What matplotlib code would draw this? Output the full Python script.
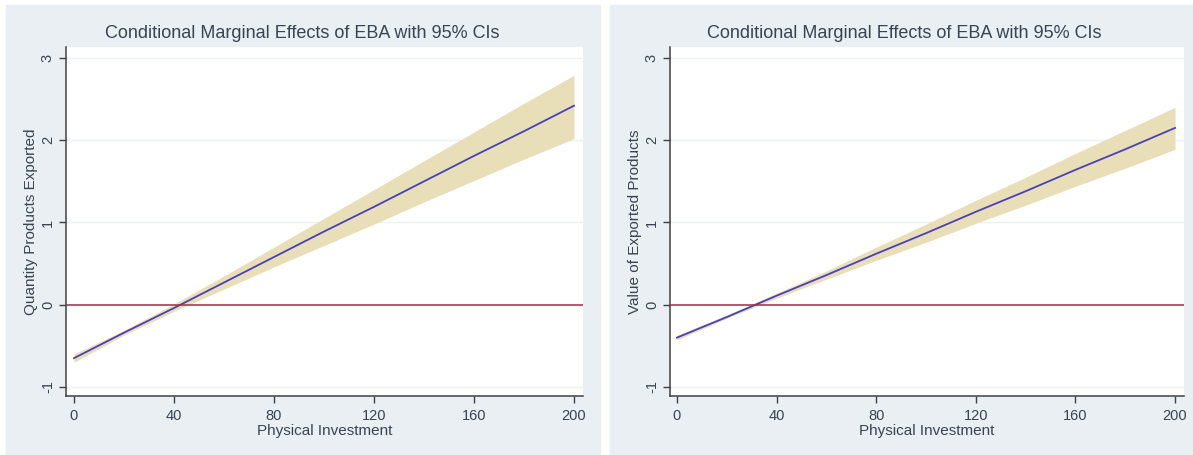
import numpy as np
import matplotlib
matplotlib.use("Agg")
import matplotlib.pyplot as plt
from matplotlib.patches import Rectangle

plt.rcParams['font.family'] = ['Liberation Sans', 'DejaVu Sans']

# === DATOS ===
x = [0, 20, 40, 60, 80, 100, 120, 140, 160, 180, 200]

# Panel izquierdo: Quantity Products Exported
qty_est = [-0.65, -0.34, -0.04, 0.27, 0.58, 0.89, 1.19, 1.50, 1.81, 2.11, 2.42]
qty_hi = [-0.60, -0.31, 0.01, 0.35, 0.70, 1.05, 1.40, 1.75, 2.10, 2.45, 2.79]
qty_lo = [-0.70, -0.37, -0.08, 0.19, 0.46, 0.72, 0.98, 1.25, 1.51, 1.77, 2.02]

# Panel derecho: Value of Exported Products
val_est = [-0.40, -0.15, 0.11, 0.36, 0.62, 0.87, 1.13, 1.38, 1.64, 1.89, 2.15]
val_hi = [-0.37, -0.125, 0.14, 0.41, 0.70, 0.98, 1.27, 1.55, 1.84, 2.12, 2.40]
val_lo = [-0.43, -0.165, 0.08, 0.31, 0.54, 0.76, 0.99, 1.21, 1.44, 1.66, 1.89]

xticks = [0, 40, 80, 120, 160, 200]
yticks = [-1, 0, 1, 2, 3]
title = 'Conditional Marginal Effects of EBA with 95% CIs'
xlabel = 'Physical Investment'

# === ESTILO ===
bg = '#E9EFF2'
band = '#E8DFB8'
line_c = '#4B3FB8'
zero_c = '#A8284A'
txt = '#3A4450'

W, H = 1193, 455
fig = plt.figure(figsize=(W / 100, H / 100), dpi=100)
fig.patch.set_facecolor('white')

# fondos de cada panel (px -> fracción)
fig.patches.append(Rectangle((6 / W, 0), (600 - 6) / W, (H - 5) / H,
                             transform=fig.transFigure, color=bg, zorder=-10))
fig.patches.append(Rectangle((610 / W, 0), (W - 610) / W, (H - 5) / H,
                             transform=fig.transFigure, color=bg, zorder=-10))


def panel(rect, est, hi, lo, ylabel, xlim, title_x):
    ax = fig.add_axes(rect)
    ax.set_facecolor('white')
    ax.fill_between(x, lo, hi, color=band, lw=0, zorder=2)
    ax.plot(x, est, color=line_c, lw=1.3, zorder=3)
    ax.axhline(0, color=zero_c, lw=1.1, zorder=4)
    for yt in yticks:
        ax.axhline(yt, color='#EAF2F3', lw=1, zorder=1)
    ax.set_xlim(*xlim)
    ax.set_ylim(-1.11, 3.134)
    ax.set_xticks(xticks)
    ax.set_yticks(yticks)
    ax.set_yticklabels([str(v) for v in yticks], rotation=90, va='center')
    ax.tick_params(direction='out', length=5, width=1, color='#404040',
                   labelcolor=txt, labelsize=10.5)
    ax.tick_params(axis='x', pad=4)
    ax.tick_params(axis='y', pad=3)
    for s in ['top', 'right']:
        ax.spines[s].set_visible(False)
    for s in ['left', 'bottom']:
        ax.spines[s].set_color('#404040')
        ax.spines[s].set_linewidth(1.1)
    ax.set_xlabel(xlabel, fontsize=11, color=txt, labelpad=1)
    ax.set_ylabel(ylabel, fontsize=11, color=txt, labelpad=2)
    fig.text(title_x / W, 1 - 33 / H, title, fontsize=13, color=txt,
             ha='center', va='center')
    return ax


panel([66 / W, 1 - 396 / H, (583 - 66) / W, (396 - 47) / H],
      qty_est, qty_hi, qty_lo, 'Quantity Products Exported', (-3.2, 203.6), 302)
panel([670 / W, 1 - 396 / H, (1184 - 670) / W, (396 - 47) / H],
      val_est, val_hi, val_lo, 'Value of Exported Products', (-2.8, 203.6), 904)

fig.savefig('out.png', dpi=100, facecolor=fig.get_facecolor())
